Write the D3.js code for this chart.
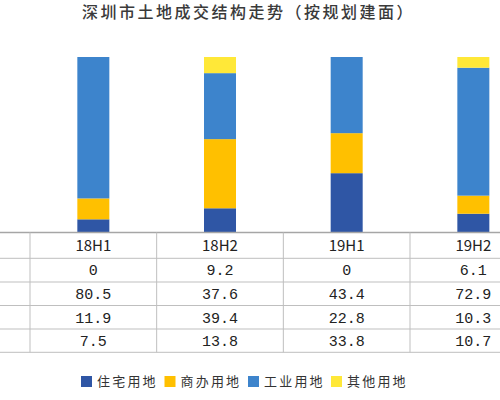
<!DOCTYPE html>
<html>
<head>
<meta charset="utf-8">
<script src="https://cdn.jsdelivr.net/npm/d3@7"></script>
<style>
  html, body { margin: 0; padding: 0; background: #fff; }
  svg { display: block; }
</style>
</head>
<body>
<script>
// data
const periods = ["18H1", "18H2", "19H1", "19H2"];
const seriesNames = ["住宅用地", "商办用地", "工业用地", "其他用地"];
const residential = [7.5, 13.8, 33.8, 10.7];
const commercial = [11.9, 39.4, 22.8, 10.3];
const industrial = [80.5, 37.6, 43.4, 72.9];
const other = [0, 9.2, 0, 6.1];
const colors = ["#2f56a5", "#ffc000", "#3d84cc", "#ffe838"];
// table rows top to bottom, as in the picture
const tableRows = [other, industrial, commercial, residential];

function init() {
    "use strict";

    const w = 500;
    const h = 400;
    const plotTop = 57;
    const plotBottom = 232.5;
    const colLeft = 30;
    const colWidth = 126.67;
    const barWidth = 32;
    const rowLines = [plotBottom, 258.3, 282, 305.5, 329, 352.3];

    const rows = periods.map((p, i) => ({
        period: p,
        "住宅用地": residential[i],
        "商办用地": commercial[i],
        "工业用地": industrial[i],
        "其他用地": other[i]
    }));

    const stacked = d3.stack()
        .keys(seriesNames)
        .offset(d3.stackOffsetExpand)(rows);

    const svg = d3.select('body')
    .append('svg')
        .attr("width", w)
        .attr("height", h);

    svg.append('text')
        .attr("x", 82)
        .attr("y", 18)
        .style("font-family", "'Noto Sans CJK SC'")
        .style("font-size", "16px")
        .style("font-weight", "500")
        .style("letter-spacing", "2.5px")
        .style("fill", "#3a3a3a")
        .text("深圳市土地成交结构走势（按规划建面）");

    // scales
    const xScale = d3.scaleBand()
        .domain(periods)
        .range([colLeft, colLeft + colWidth * periods.length])
        .padding(0);

    const yScale = d3.scaleLinear()
        .domain([0, 1])
        .range([plotBottom, plotTop]);

    // bars
    svg.selectAll('g.series')
    .data(stacked)
    .enter()
    .append('g')
        .attr("class", "series")
        .attr("fill", (d, i) => colors[i])
    .selectAll('rect')
    .data(d => d)
    .enter()
    .append('rect')
        .attr("x", d => xScale(d.data.period) + (xScale.bandwidth() - barWidth) / 2)
        .attr("y", d => yScale(d[1]))
        .attr("width", barWidth)
        .attr("height", d => yScale(d[0]) - yScale(d[1]));

    // table grid
    const grid = svg.append('g');
    grid.selectAll('line.h')
    .data(rowLines)
    .enter()
    .append('line')
        .attr("x1", 0)
        .attr("x2", w)
        .attr("y1", d => d)
        .attr("y2", d => d)
        .attr("stroke", (d, i) => i === 0 ? "#a6a6a6" : "#bfbfbf")
        .attr("stroke-width", (d, i) => i === 0 ? 1.6 : 1);

    grid.selectAll('line.v')
    .data(periods)
    .enter()
    .append('line')
        .attr("x1", d => xScale(d))
        .attr("x2", d => xScale(d))
        .attr("y1", plotBottom)
        .attr("y2", rowLines[rowLines.length - 1])
        .attr("stroke", "#bfbfbf")
        .attr("stroke-width", 1);

    // header
    svg.selectAll('text.head')
    .data(periods)
    .enter()
    .append('text')
        .attr("x", d => xScale(d) + xScale.bandwidth() / 2)
        .attr("y", (rowLines[0] + rowLines[1]) / 2)
        .attr("dy", "0.35em")
        .attr("text-anchor", "middle")
        .style("font-family", "'Noto Sans CJK SC'")
        .style("font-size", "15px")
        .style("fill", "#222")
        .text(d => d);

    // values
    tableRows.forEach((vals, r) => {
        svg.selectAll('text.r' + r)
        .data(vals)
        .enter()
        .append('text')
            .attr("x", (d, i) => xScale(periods[i]) + xScale.bandwidth() / 2)
            .attr("y", (rowLines[r + 1] + rowLines[r + 2]) / 2)
            .attr("dy", "0.35em")
            .attr("text-anchor", "middle")
            .style("font-family", "'Liberation Mono'")
            .style("font-size", "15px")
            .style("fill", "#222")
            .text(d => d);
    });

    // legend
    const legendX = [81, 164.5, 248, 331];
    const legend = svg.selectAll('g.legend')
    .data(seriesNames)
    .enter()
    .append('g')
        .attr("transform", (d, i) => "translate(" + legendX[i] + ",381.5)");
    legend.append('rect')
        .attr("x", 0)
        .attr("y", -5.5)
        .attr("width", 11)
        .attr("height", 11)
        .attr("fill", (d, i) => colors[i]);
    legend.append('text')
        .attr("x", 16)
        .attr("dy", "0.36em")
        .style("font-family", "'Noto Sans CJK SC'")
        .style("font-size", "13px")
        .style("letter-spacing", "2.2px")
        .style("fill", "#333")
        .text(d => d);
}

window.onload = init;
</script>
</body>
</html>
